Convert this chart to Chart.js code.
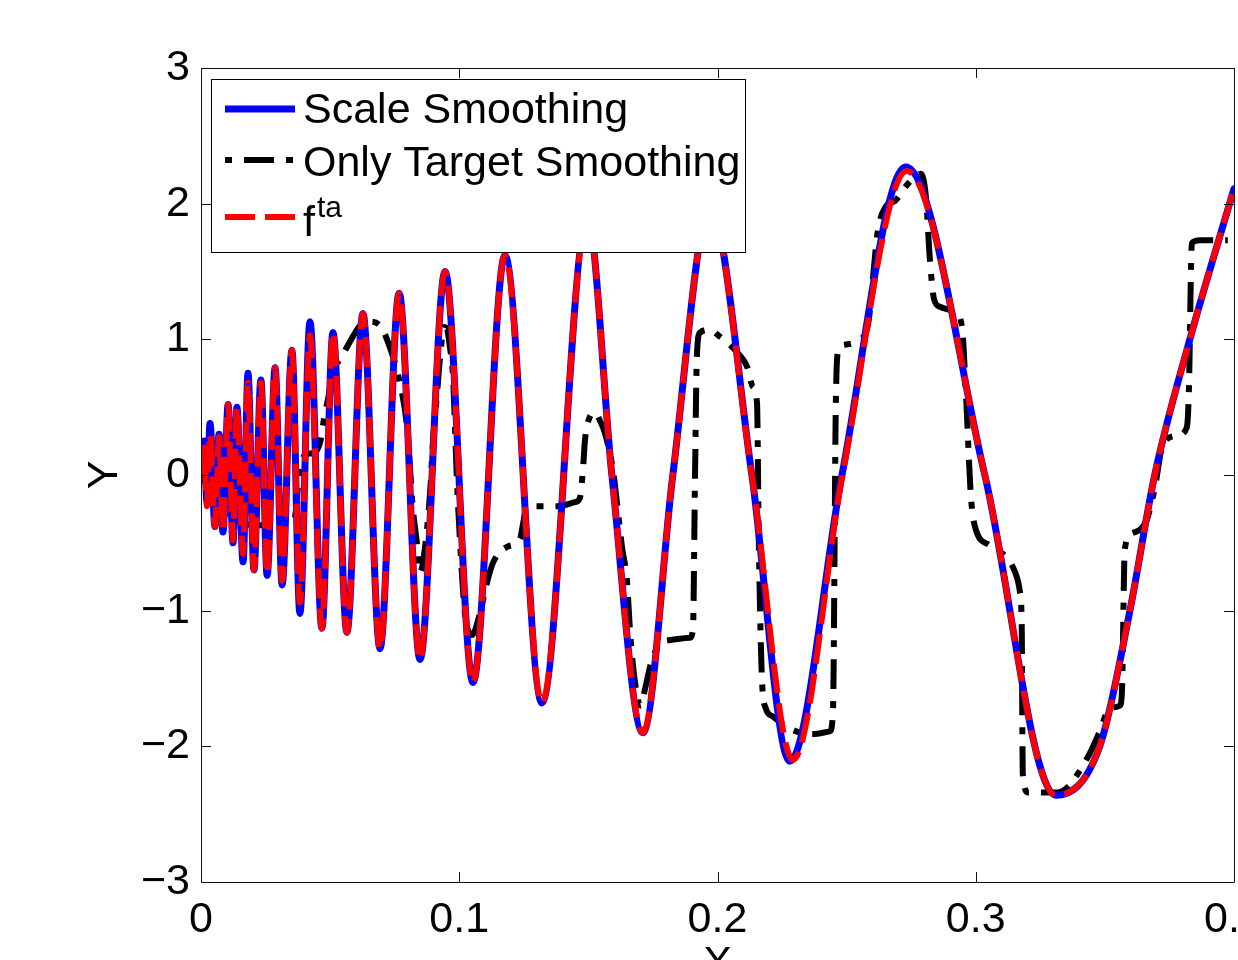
<!DOCTYPE html>
<html>
<head>
<meta charset="utf-8">
<title>Scale Smoothing</title>
<script src="https://cdn.jsdelivr.net/npm/chart.js"></script>
<style>
  html, body { margin: 0; padding: 0; background: #fff; }
  #chart { display: block; }
</style>
</head>
<body>
<canvas id="chart" width="1238" height="960"></canvas>
<script>
// axis ticks
const xTicks = [0, 0.1, 0.2, 0.3, 0.4];
const xTickLabels = ['0', '0.1', '0.2', '0.3', '0.4'];
const yTicks = [-3, -2, -1, 0, 1, 2, 3];
const yTickLabels = ['\u22123', '\u22122', '\u22121', '0', '1', '2', '3'];

// Scale Smoothing (blue) - peaks, troughs and a few crossings
const scaleX = [0, 0.0012, 0.0023, 0.0035, 0.0054, 0.0070, 0.0085, 0.0105, 0.0124, 0.0139,
  0.0163, 0.0182, 0.0205, 0.0232, 0.0256, 0.0287, 0.0314, 0.0352, 0.0383, 0.0422,
  0.0468, 0.0511, 0.0565, 0.0627, 0.0693, 0.0767, 0.0848, 0.0945, 0.1053, 0.1177,
  0.1320, 0.1496, 0.1591, 0.1711, 0.1827, 0.1971, 0.2133, 0.2280, 0.2482, 0.2729,
  0.3035, 0.3310, 0.3480, 0.3597, 0.3693, 0.3829, 0.4];
const scaleY = [0, 0.25, -0.2, 0.38, -0.38, 0.3, -0.42, 0.52, -0.5, 0.5,
  -0.64, 0.75, -0.7, 0.7, -0.74, 0.79, -0.81, 0.92, -1.02, 1.13,
  -1.13, 1.05, -1.16, 1.19, -1.28, 1.34, -1.36, 1.5, -1.53, 1.62,
  -1.68, 1.9, 0, -1.9, 0, 1.97, 0, -2.11, 0, 2.27,
  0, -2.36, -2.0, -1.0, 0, 1.0, 2.11];

// f^ta (red dashed)
const targetX = [0, 0.0012, 0.0023, 0.0035, 0.0054, 0.0070, 0.0085, 0.0105, 0.0124, 0.0139,
  0.0163, 0.0182, 0.0205, 0.0232, 0.0256, 0.0287, 0.0314, 0.0352, 0.0383, 0.0422,
  0.0468, 0.0511, 0.0565, 0.0627, 0.0693, 0.0767, 0.0848, 0.0945, 0.1053, 0.1177,
  0.1320, 0.1496, 0.1591, 0.1711, 0.1827, 0.1971, 0.2133, 0.2292, 0.2484, 0.2733,
  0.3035, 0.3310, 0.3480, 0.3597, 0.3693, 0.3829, 0.4];
const targetY = [0, 0.2, -0.23, 0.3, -0.38, 0.28, -0.42, 0.52, -0.48, 0.5,
  -0.58, 0.68, -0.7, 0.68, -0.73, 0.79, -0.78, 0.92, -0.94, 1.03,
  -1.13, 1.05, -1.16, 1.19, -1.28, 1.34, -1.36, 1.5, -1.53, 1.62,
  -1.68, 1.9, 0, -1.9, 0, 1.97, 0, -2.1, 0, 2.24,
  0, -2.36, -2.0, -1.0, 0, 1.0, 2.11];

// Only Target Smoothing (black dash-dot)
const onlyTargetX = [0, 0.0039, 0.0093, 0.0132, 0.0228, 0.0345, 0.0364, 0.0379, 0.0403, 0.0430,
  0.0461, 0.0476, 0.0496, 0.0511, 0.0538, 0.0588, 0.0616, 0.0654, 0.0693, 0.0720,
  0.0770, 0.0798, 0.0809, 0.0821, 0.0836, 0.0848, 0.0863, 0.0887, 0.0898, 0.0914,
  0.0925, 0.0941, 0.0952, 0.0964, 0.0976, 0.0983, 0.0991, 0.0999, 0.1010, 0.1022,
  0.1049, 0.1080, 0.1100, 0.1130, 0.1185, 0.1235, 0.1247, 0.1258, 0.1274, 0.1382,
  0.1448, 0.1467, 0.1479, 0.1487, 0.1506, 0.1525, 0.1545, 0.1564, 0.1595, 0.1614,
  0.1630, 0.1649, 0.1661, 0.1672, 0.1692, 0.1703, 0.1719, 0.1750, 0.1804, 0.1893,
  0.1905, 0.1913, 0.1920, 0.1932, 0.1971, 0.2009, 0.2048, 0.2087, 0.2114, 0.2137,
  0.2153, 0.2160, 0.2172, 0.2187, 0.2214, 0.2292, 0.2369, 0.2435, 0.2447, 0.2458,
  0.2466, 0.2493, 0.2551, 0.2582, 0.2621, 0.2652, 0.2687, 0.2726, 0.2764, 0.2787,
  0.2807, 0.2822, 0.2838, 0.2861, 0.2919, 0.2946, 0.2962, 0.2981, 0.3000, 0.3055,
  0.3151, 0.3171, 0.3178, 0.3182, 0.3202, 0.3318, 0.3357, 0.3403, 0.3442, 0.3480,
  0.3519, 0.3558, 0.3566, 0.3577, 0.3604, 0.3662, 0.3693, 0.3724, 0.3779, 0.3817,
  0.3825, 0.3837, 0.3868, 0.3976];
const onlyTargetY = [0, -0.13, -0.28, -0.34, -0.37, -0.36, -0.31, -0.02, 0.15, 0.16,
  0.24, 0.41, 0.6, 0.77, 0.85, 1.02, 1.1, 1.13, 1.1, 1.0,
  0.68, 0.35, 0.06, -0.26, -0.5, -0.72, -0.6, -0.13, 0.24, 0.6,
  0.85, 1.09, 1.08, 0.94, 0.72, 0.38, -0.04, -0.35, -0.72, -1.02,
  -1.18, -1.02, -0.85, -0.65, -0.53, -0.47, -0.36, -0.25, -0.23, -0.23,
  -0.2, -0.17, 0.04, 0.26, 0.43, 0.46, 0.4, 0.31, 0.04, -0.26,
  -0.53, -0.77, -1.14, -1.39, -1.66, -1.7, -1.58, -1.34, -1.22, -1.2,
  -1.14, 0.0, 0.87, 1.05, 1.07, 1.02, 0.96, 0.88, 0.8, 0.65,
  0.53, -0.5, -1.5, -1.72, -1.78, -1.88, -1.91, -1.89, -1.75, 0.5,
  0.9, 0.96, 1.0, 1.1, 1.8, 1.98, 2.02, 2.12, 2.2, 2.22,
  2.05, 1.6, 1.3, 1.24, 1.2, 1.1, 0.6, -0.15, -0.4, -0.52,
  -0.71, -0.86, -1.1, -2.2, -2.34, -2.34, -2.3, -2.18, -2.05, -1.89,
  -1.72, -1.7, -1.6, -0.55, -0.43, -0.33, -0.1, 0.22, 0.29, 0.35,
  0.6, 1.71, 1.73, 1.73];

const toPoints = (xs, ys) => xs.map((x, i) => ({ x: x, y: ys[i] }));

const FONT = '"Liberation Sans", Arial, Helvetica, sans-serif';

// box, inward ticks, axis titles and the legend, drawn MATLAB style
const matlabAxes = {
  id: 'matlabAxes',
  afterDatasetsDraw(chart) {
    const { ctx, chartArea: { left, right, top, bottom }, scales: { x, y } } = chart;
    ctx.save();
    ctx.strokeStyle = '#111';
    ctx.lineWidth = 1;
    ctx.setLineDash([]);
    ctx.beginPath();
    ctx.rect(left + 0.5, top + 0.5, right - left, bottom - top);
    xTicks.forEach(v => {
      const px = Math.round(x.getPixelForValue(v)) + 0.5;
      ctx.moveTo(px, bottom); ctx.lineTo(px, bottom - 10);
      ctx.moveTo(px, top); ctx.lineTo(px, top + 10);
    });
    yTicks.forEach(v => {
      const py = Math.round(y.getPixelForValue(v)) + 0.5;
      ctx.moveTo(left, py); ctx.lineTo(left + 10, py);
      ctx.moveTo(right, py); ctx.lineTo(right - 10, py);
    });
    ctx.stroke();

    // axis titles
    ctx.fillStyle = '#000';
    ctx.font = '43px ' + FONT;
    ctx.textAlign = 'center';
    ctx.textBaseline = 'alphabetic';
    ctx.fillText('X', (left + right) / 2, 976);
    ctx.save();
    ctx.translate(117, (top + bottom) / 2);
    ctx.rotate(-Math.PI / 2);
    ctx.fillText('Y', 0, 0);
    ctx.restore();

    // legend
    ctx.fillStyle = '#fff';
    ctx.fillRect(211, 79, 534, 173);
    ctx.strokeStyle = '#000';
    ctx.strokeRect(211.5, 79.5, 534, 173);

    const rows = [109, 160, 217];
    chart.data.datasets.forEach(ds => {
      const r = rows[ds.legendRow];
      ctx.beginPath();
      ctx.strokeStyle = ds.borderColor;
      ctx.lineWidth = ds.borderWidth;
      ctx.lineCap = 'butt';
      ctx.setLineDash(ds.borderDash || []);
      ctx.lineDashOffset = ds.legendDashOffset || 0;
      ctx.moveTo(225, r);
      ctx.lineTo(295, r);
      ctx.stroke();
    });
    ctx.setLineDash([]);
    ctx.lineDashOffset = 0;
    ctx.fillStyle = '#000';
    ctx.textAlign = 'left';
    ctx.font = '43px ' + FONT;
    ctx.fillText('Scale Smoothing', 303, 123);
    ctx.fillText('Only Target Smoothing', 303, 176);
    ctx.fillText('f', 303, 236);
    const fw = ctx.measureText('f').width;
    ctx.font = '30px ' + FONT;
    ctx.fillText('ta', 303 + fw + 2, 217);
    ctx.restore();
  }
};

const tickFont = { family: FONT, size: 43 };

new Chart(document.getElementById('chart'), {
  type: 'line',
  data: {
    datasets: [
      {
        label: 'Only Target Smoothing',
        data: toPoints(onlyTargetX, onlyTargetY),
        borderColor: '#000000',
        borderWidth: 6,
        borderDash: [30, 12, 7, 12],
        borderCapStyle: 'butt',
        borderJoinStyle: 'round',
        cubicInterpolationMode: 'monotone',
        pointRadius: 0,
        order: 3,
        legendRow: 1,
        legendDashOffset: 42
      },
      {
        label: 'Scale Smoothing',
        data: toPoints(scaleX, scaleY),
        borderColor: '#0000ff',
        borderWidth: 7,
        borderCapStyle: 'round',
        borderJoinStyle: 'round',
        cubicInterpolationMode: 'monotone',
        pointRadius: 0,
        order: 2,
        legendRow: 0
      },
      {
        label: 'f^ta',
        data: toPoints(targetX, targetY),
        borderColor: '#ff0000',
        borderWidth: 6,
        borderDash: [30, 10],
        borderCapStyle: 'butt',
        borderJoinStyle: 'round',
        cubicInterpolationMode: 'monotone',
        pointRadius: 0,
        order: 1,
        legendRow: 2
      }
    ]
  },
  options: {
    responsive: false,
    animation: false,
    devicePixelRatio: 1,
    layout: { padding: { top: 68, right: 4, left: 0, bottom: 0 } },
    plugins: {
      legend: { display: false },
      tooltip: { enabled: false }
    },
    scales: {
      x: {
        type: 'linear',
        min: 0,
        max: 0.4,
        afterBuildTicks(scale) { scale.ticks = xTicks.map(v => ({ value: v })); },
        afterFit(scale) { scale.height = 78; scale.paddingLeft = 0; scale.paddingRight = 0; },
        ticks: {
          callback: (v, i) => xTickLabels[i],
          font: tickFont,
          color: '#000',
          padding: 12,
          maxRotation: 0,
          autoSkip: false
        },
        grid: { display: false, drawTicks: false },
        border: { display: false }
      },
      y: {
        type: 'linear',
        min: -3,
        max: 3,
        afterBuildTicks(scale) { scale.ticks = yTicks.map(v => ({ value: v })); },
        afterFit(scale) { scale.width = 201; scale.paddingTop = 0; scale.paddingBottom = 0; },
        ticks: {
          callback: (v, i) => yTickLabels[i],
          font: tickFont,
          color: '#000',
          padding: 11,
          autoSkip: false
        },
        grid: { display: false, drawTicks: false },
        border: { display: false }
      }
    }
  },
  plugins: [matlabAxes]
});
</script>
</body>
</html>
